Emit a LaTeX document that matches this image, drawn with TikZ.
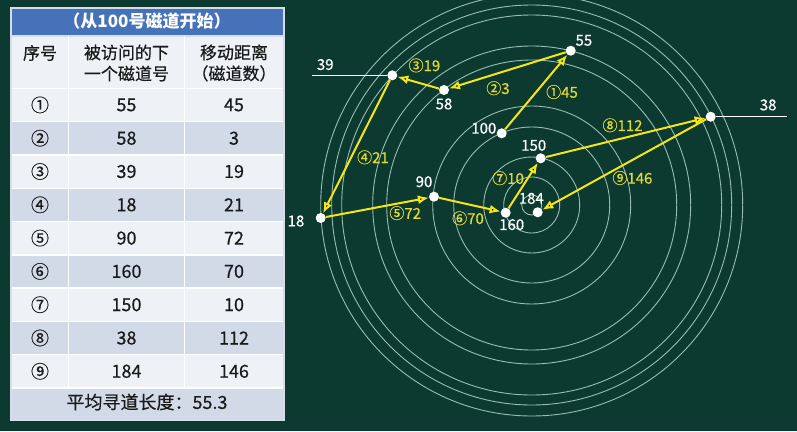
\documentclass[tikz,border=0pt]{standalone}
\usepackage{fontspec}
\setmainfont{Noto Sans CJK SC}
\newfontfamily\boardfont[FakeBold=0.5]{Noto Sans CJK SC}
\usetikzlibrary{arrows.meta, positioning}

\definecolor{board}{HTML}{0D3A30}
\definecolor{track}{HTML}{98BDB0}
\definecolor{seek}{HTML}{F5E617}
\definecolor{seektext}{HTML}{E3DA36}
\definecolor{titlebar}{HTML}{4572B8}
\definecolor{tableedge}{HTML}{D6DDE6}
\definecolor{rowlight}{HTML}{EEF1F5}
\definecolor{rowdark}{HTML}{D3DAE7}
\definecolor{ink}{HTML}{1A1A1A}

\tikzset{
  trackline/.style={draw=track, line width=0.9pt},
  dot/.style={circle, fill=white, inner sep=0pt, minimum size=10pt},
  radial/.style={draw=white, line width=1.4pt},
  tracklabel/.style={text=white, font=\boardfont\fontsize{15}{15}\selectfont, inner sep=1pt},
  steplabel/.style={text=seektext, font=\boardfont\fontsize{15}{15}\selectfont, inner sep=1pt},
  seek/.style={draw=seek, line width=2pt, -{Latex[length=11pt, width=9pt]}},
  cell/.style={text=ink, font=\boardfont\fontsize{18}{18}\selectfont, inner sep=0pt},
  headcell/.style={text=ink, font=\boardfont\fontsize{17}{21}\selectfont, align=center, inner sep=0pt},
  sep/.style={draw=white, line width=1.4pt},
}

\begin{document}
\begin{tikzpicture}[x=1pt, y=-1pt]
    \fill[board] (0,0) rectangle (797,431);
    \useasboundingbox (0,0) rectangle (797,431);

    % table
    \fill[tableedge] (9.5,6.5) rectangle (285,421);
    \fill[titlebar] (11.5,8.5) rectangle (283,35);
    \node (title) [text=white, font=\bfseries\fontsize{17}{17}\selectfont] at (147,21.5) {（从100号磁道开始）};
    \fill[rowlight] (11.5,36.5) rectangle (283,88.3);
    \node (hno) [headcell] at (40,53) {序号};
    \node (htrk) [headcell] at (126.5,63) {被访问的下\\一个磁道号};
    \node (hdist) [headcell] at (234,63) {移动距离\\（磁道数）};
    \foreach \n/\trk/\d [count=\i] in {①/55/45, ②/58/3, ③/39/19, ④/18/21, ⑤/90/72,
        ⑥/160/70, ⑦/150/10, ⑧/38/112, ⑨/184/146} {
      \pgfmathsetmacro\rowtop{88.3+(\i-1)*33.3}
      \ifodd\i \def\rowcol{rowlight}\else\def\rowcol{rowdark}\fi
      \fill[\rowcol] (11.5,\rowtop) rectangle (283,\rowtop+33.3);
      \draw[sep] (11.5,\rowtop) -- (283,\rowtop);
      \node (no\i) [cell] at (40,\rowtop+16.6) {\n};
      \node (trk\i) [cell] at (126.5,\rowtop+16.6) {\trk};
      \node (dist\i) [cell] at (234,\rowtop+16.6) {\d};
    }
    \fill[rowdark] (11.5,388) rectangle (283,419);
    \draw[sep] (11.5,388) -- (283,388);
    \draw[sep] (68.3,36) -- (68.3,388);
    \draw[sep] (184.5,36) -- (184.5,388);
    \node (avg) [cell] at (147,402) {平均寻道长度：55.3};

    % disk
    \coordinate (c) at (531.7,205);
    \foreach \r in {10,28,48,78,99,145,159,190,200,211}
      \draw[trackline] (c) circle (\r);

    \node (t100) [dot] at (501.7,133.3) {};
    \node (t55) [dot] at (570.7,50.7) {};
    \node (t58) [dot] at (444,90) {};
    \node (t39) [dot] at (392.3,75.3) {};
    \node (t18) [dot] at (320.7,218) {};
    \node (t90) [dot] at (434,196.7) {};
    \node (t160) [dot] at (505.7,212.7) {};
    \node (t150) [dot] at (540.7,158.3) {};
    \node (t38) [dot] at (710.7,116.7) {};
    \node (t184) [dot] at (537.7,212.3) {};
    \coordinate (e39) at (311.7,75.3);
    \coordinate (e38) at (786.7,116.7);
    \draw[radial] (e39) -- (t39);
    \draw[radial] (t38) -- (e38);

    \node (n100) [tracklabel, left=-1pt of t100, yshift=5pt] {100};
    \node (n55) [tracklabel, above right=0pt and 0pt of t55] {55};
    \node (n58) [tracklabel, below=2pt of t58] {58};
    \node (n39) [tracklabel, above right=4pt and 4pt of e39] {39};
    \node (n18) [tracklabel, left=10pt of t18, yshift=-3pt] {18};
    \node (n90) [tracklabel, above=3pt of t90, xshift=-10pt] {90};
    \node (n160) [tracklabel, below=0pt of t160, xshift=6pt] {160};
    \node (n150) [tracklabel, above=1pt of t150, xshift=-7pt] {150};
    \node (n38) [tracklabel, above left=5pt and 9pt of e38] {38};
    \node (n184) [tracklabel, above=2pt of t184, xshift=-6.4pt] {184};

    \path [seek]
    (t100) edge node[steplabel, pos=0.5, right=8pt] {①45} (t55)
    (t55) edge node[steplabel, pos=0.58, below=6pt] {②3} (t58)
    (t58) edge node[steplabel, pos=0.35, above=10pt] {③19} (t39)
    (t39) edge node[steplabel, pos=0.58, right=4pt] {④21} (t18)
    (t18) edge node[steplabel, pos=0.77, below=2pt] {⑤72} (t90)
    (t90) edge node[steplabel, pos=0.47, below=5pt] {⑥70} (t160)
    (t160) edge node[steplabel, pos=0.66, left=2pt] {⑦10} (t150)
    (t150) edge node[steplabel, pos=0.48, above=4pt] {⑧112} (t38)
    (t38) edge node[steplabel, pos=0.45, below=9pt] {⑨146} (t184);
\end{tikzpicture}
\end{document}
